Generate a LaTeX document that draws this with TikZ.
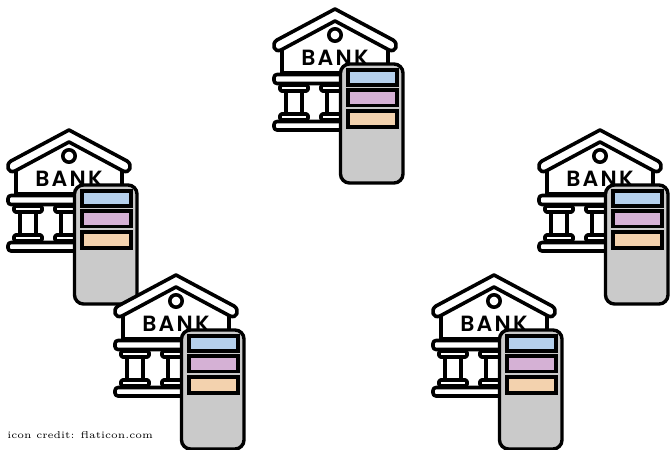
\documentclass[tikz,border=0pt]{standalone}
\usepackage{fontspec}
\newfontfamily\bankfont[LetterSpace=10]{Poppins SemiBold}
\definecolor{phonegray}{HTML}{CACACA}
\definecolor{rowblue}{HTML}{B5D0EC}
\definecolor{rowpurple}{HTML}{D5B1D5}
\definecolor{roworange}{HTML}{F3D2AE}
\tikzset{
 x=1pt,y=-1pt,
 ink/.style={draw=black,line width=3.6pt,line join=round,line cap=round,fill=white},
 phonebody/.style={draw=black,line width=3.4pt,fill=phonegray,rounded corners=9pt},
 phonerow/.style={draw=black,line width=3.2pt},
 banklabel/.style={font=\bankfont\fontsize{22}{22}\selectfont,inner sep=0pt,anchor=center},
 credit/.style={font=\tiny,scale=1.98,inner sep=0pt,anchor=west},
 pics/bankphone/.style={code={
  % walls
  \draw[ink] (-53,45) -- (-53,73) -- (53,73) -- (53,45);
  % roof band
  \draw[ink] (0,9) -- (-58,40) .. controls (-64,44) and (-61,53) .. (-54,50) -- (0,21) -- (54,50) .. controls (61,53) and (64,44) .. (58,40) -- cycle;
  \draw[ink] (0,35) circle (6.2pt);
  \node[banklabel] (-label) at (0,57.5) {BANK};
  % entablature
  \draw[ink,rounded corners=3pt] (-61,74.5) rectangle (61,83.5);
  % columns
  \foreach \c in {-41,0,41}{
   \draw[ink,rounded corners=1.5pt] (\c-14,85) rectangle (\c+14,91);
   \draw[ink] (\c-8,91) -- (\c-8,114);
   \draw[ink] (\c+8,91) -- (\c+8,114);
   \draw[ink,rounded corners=1.5pt] (\c-14,114) rectangle (\c+14,120);
  }
  % stage
  \draw[ink,rounded corners=3pt] (-61,121.5) rectangle (61,130);
  % phone
  \draw[phonebody] (5.5,64) rectangle (68,183);
  \draw[phonerow,fill=rowblue] (13,70) rectangle (62,85);
  \draw[phonerow,fill=rowpurple] (13,90) rectangle (62,105.5);
  \draw[phonerow,fill=roworange] (13,111) rectangle (62,127);
 }}
}
\begin{document}
\begin{tikzpicture}
\useasboundingbox (0,0) rectangle (670,450);
\pic (top) at (335,0) {bankphone};
\pic (left) at (69,121) {bankphone};
\pic (right) at (600,121) {bankphone};
\pic (lowleft) at (176,266) {bankphone};
\pic (lowright) at (494,266) {bankphone};
\node[credit] (creditnote) at (7,435) {icon credit: flaticon.com};
\end{tikzpicture}
\end{document}
